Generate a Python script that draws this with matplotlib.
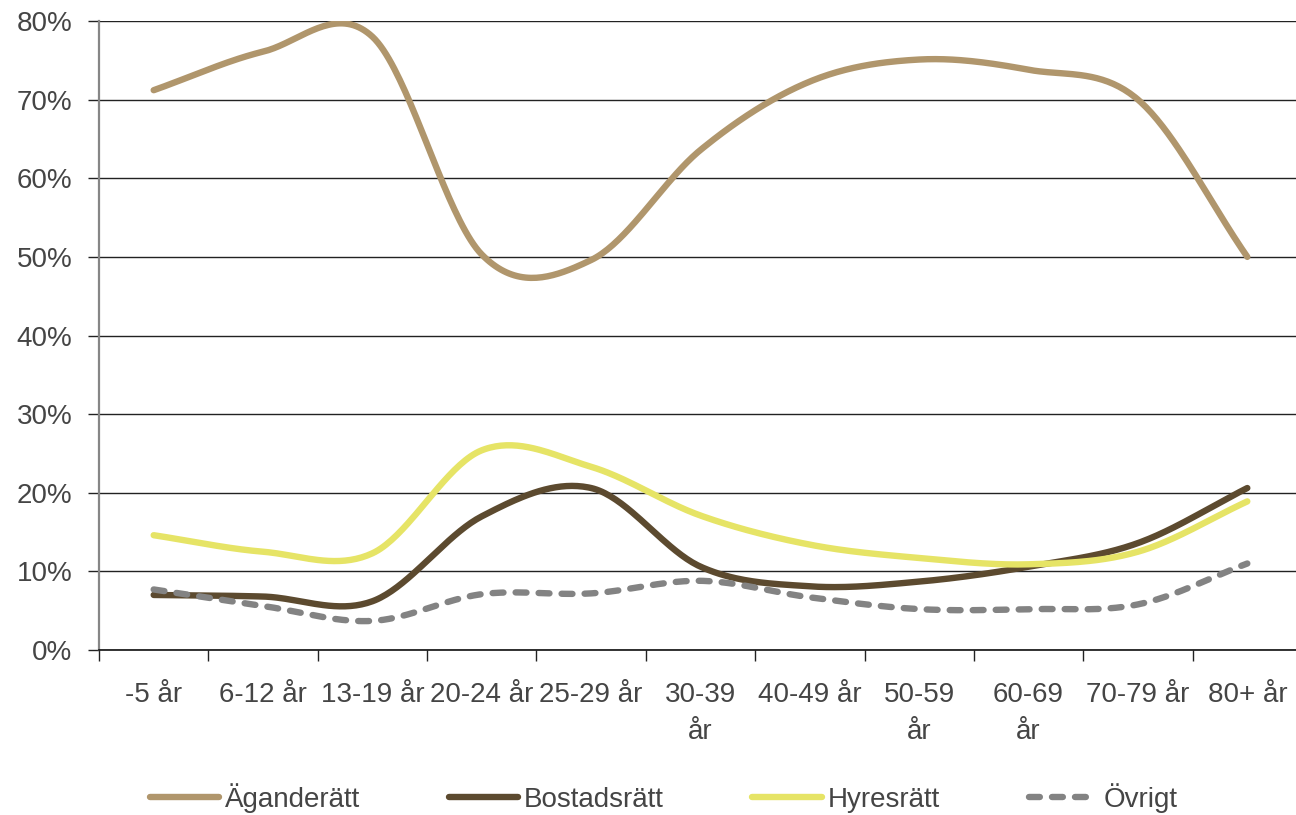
import numpy as np
import matplotlib
matplotlib.use("Agg")
import matplotlib.pyplot as plt
from matplotlib.lines import Line2D

plt.rcParams['font.family'] = ['Liberation Sans', 'DejaVu Sans']

# Age groups (tick labels as drawn, some wrap onto two lines)
categories = ["-5 år", "6-12 år", "13-19 år", "20-24 år", "25-29 år", "30-39\når",
              "40-49 år", "50-59\når", "60-69\når", "70-79 år", "80+ år"]

# Share of persons per form of tenure (%)
aganderatt = [71.2, 76.1, 78.0, 50.3, 49.6, 63.6, 72.3, 75.1, 73.8, 70.0, 50.0]
bostadsratt = [7.0, 6.8, 6.2, 17.0, 20.6, 10.6, 8.1, 8.7, 10.6, 13.6, 20.6]
hyresratt = [14.6, 12.5, 12.3, 25.4, 23.3, 17.1, 13.4, 11.7, 10.9, 12.5, 18.9]
ovrigt = [7.7, 5.6, 3.7, 7.1, 7.2, 8.8, 6.7, 5.2, 5.2, 5.8, 11.0]

series = [
    ("Äganderätt", aganderatt, "#b0966c", "-"),
    ("Bostadsrätt", bostadsratt, "#5c4a2f", "-"),
    ("Hyresrätt", hyresratt, "#e6e466", "-"),
    ("Övrigt", ovrigt, "#838383", "--"),
]

LW = 4.6
DASH = (1.7, 1.9)
TEXT = "#454545"


def smooth(y, n=40):
    """Cubic Hermite spline through equally spaced points (Catmull-Rom inside,
    one-sided tangents at the ends)."""
    y = np.asarray(y, dtype=float)
    k = len(y)
    m = np.empty(k)
    m[1:-1] = (y[2:] - y[:-2]) / 2.0
    m[0] = y[1] - y[0]
    m[-1] = y[-1] - y[-2]
    xs, ys = [], []
    t = np.linspace(0, 1, n, endpoint=False)
    h00 = 2 * t**3 - 3 * t**2 + 1
    h10 = t**3 - 2 * t**2 + t
    h01 = -2 * t**3 + 3 * t**2
    h11 = t**3 - t**2
    for i in range(k - 1):
        xs.append(i + t)
        ys.append(h00 * y[i] + h10 * m[i] + h01 * y[i + 1] + h11 * m[i + 1])
    xs.append([k - 1])
    ys.append([y[-1]])
    return np.concatenate(xs), np.concatenate(ys)


fig = plt.figure(figsize=(12.96, 8.15), dpi=100)
ax = fig.add_axes([99 / 1296, 165 / 815, 1203 / 1296, 629 / 815])

x = np.arange(len(categories))
for name, vals, color, ls in series:
    sx, sy = smooth(vals)
    if ls == "--":
        ax.plot(sx, sy, color=color, lw=LW, dashes=DASH, dash_capstyle="round")
    else:
        ax.plot(sx, sy, color=color, lw=LW, solid_capstyle="round")

ax.set_xlim(-0.5, len(categories) - 0.5)
ax.set_ylim(0, 80)
ax.set_yticks(np.arange(0, 81, 10))
ax.set_yticklabels([f"{v}%" for v in range(0, 81, 10)])
ax.yaxis.grid(True, color="#222222", lw=1.0)
ax.set_axisbelow(True)

ax.set_xticks(x)
ax.set_xticklabels(categories, linespacing=1.55)
ax.set_xticks(np.arange(-0.5, len(categories), 1.0), minor=True)
ax.tick_params(axis="x", which="major", length=0, pad=23, labelsize=20, labelcolor=TEXT)
ax.tick_params(axis="x", which="minor", length=8, width=1.0, color="#222222", direction="out")
ax.tick_params(axis="y", length=8, width=1.0, color="#222222", pad=11,
               labelsize=20, labelcolor=TEXT)

for side in ("top", "right"):
    ax.spines[side].set_visible(False)
ax.spines["left"].set_color("#868686")
ax.spines["left"].set_linewidth(1.6)
ax.spines["bottom"].set_color("#111111")
ax.spines["bottom"].set_linewidth(1.2)

leg_handles = []
for name, vals, color, ls in series:
    if ls == "--":
        leg_handles.append(Line2D([], [], color=color, lw=LW, dashes=DASH,
                                  dash_capstyle="round"))
    else:
        leg_handles.append(Line2D([], [], color=color, lw=LW, solid_capstyle="round"))

fig.legend(leg_handles, [s[0] for s in series], loc="center", ncol=4,
           bbox_to_anchor=(0.512, 0.021), frameon=False, fontsize=20,
           labelcolor=TEXT, handlelength=2.5, handletextpad=0.2,
           columnspacing=3.2, borderpad=0.0)

fig.savefig("out.png", dpi=100)
